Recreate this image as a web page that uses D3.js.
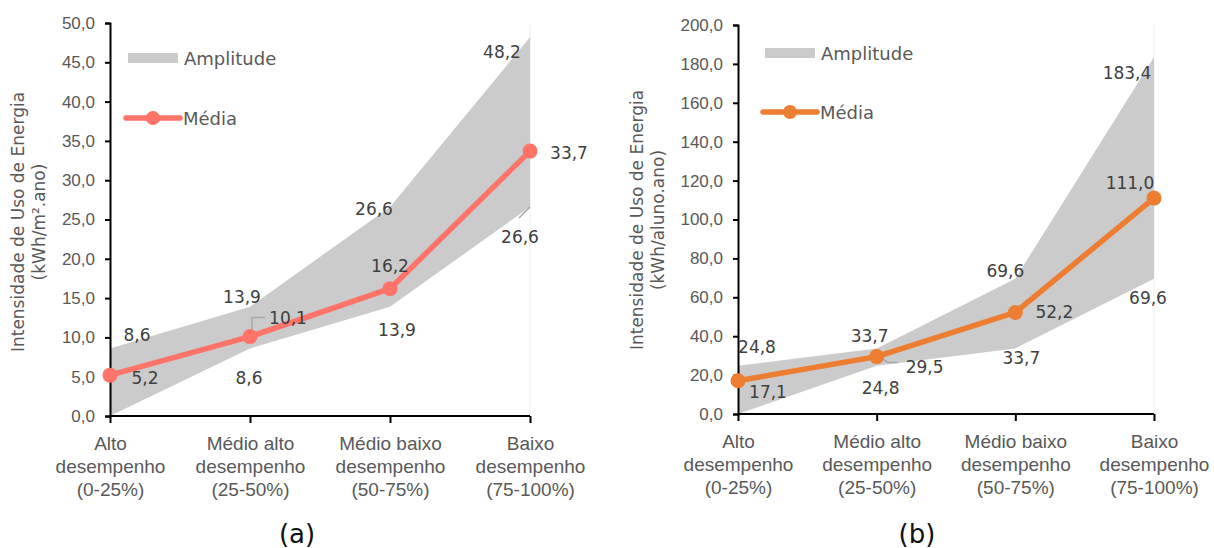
<!DOCTYPE html>
<html>
<head>
<meta charset="utf-8">
<script src="https://cdn.jsdelivr.net/npm/d3@7"></script>
<style>
  html, body { margin: 0; padding: 0; background: #fff; }
  svg { display: block; font-family: "DejaVu Sans", sans-serif; }
</style>
</head>
<body>
<svg id="chart" width="1214" height="548"></svg>
<script>
// Performance classes (x axis), three lines each
const categories = ["Alto desempenho (0-25%)", "Médio alto desempenho (25-50%)", "Médio baixo desempenho (50-75%)", "Baixo desempenho (75-100%)"];
const categoryLines = [
  ["Alto", "desempenho", "(0-25%)"],
  ["Médio alto", "desempenho", "(25-50%)"],
  ["Médio baixo", "desempenho", "(50-75%)"],
  ["Baixo", "desempenho", "(75-100%)"]
];

// (a) kWh/m².ano
const minAreaA = [0.0, 8.6, 13.9, 26.6];
const maxAreaA = [8.6, 13.9, 26.6, 48.2];
const meanAreaA = [5.2, 10.1, 16.2, 33.7];
const ticksA = [0, 5, 10, 15, 20, 25, 30, 35, 40, 45, 50];

// (b) kWh/aluno.ano
const minStudentB = [0.0, 24.8, 33.7, 69.6];
const maxStudentB = [24.8, 33.7, 69.6, 183.4];
const meanStudentB = [17.1, 29.5, 52.2, 111.0];
const ticksB = [0, 20, 40, 60, 80, 100, 120, 140, 160, 180, 200];

const fmt = v => d3.format(".1f")(v).replace(".", ",");
const svg = d3.select("#chart");

function drawPanel(cfg) {
  const g = svg.append("g");
  const x = d3.scalePoint().domain(d3.range(categories.length)).range([cfg.x0, cfg.x1]);
  const y = d3.scaleLinear().domain([cfg.ticks[0], cfg.ticks[cfg.ticks.length - 1]]).range([cfg.y0, cfg.y1]);

  // faint right border of the plot area
  g.append("line")
    .attr("x1", cfg.x1).attr("x2", cfg.x1)
    .attr("y1", cfg.y1).attr("y2", cfg.y0)
    .attr("stroke", "#ececec").attr("stroke-width", 1);

  // amplitude band (min to max)
  const area = d3.area()
    .x((d, i) => x(i))
    .y0((d, i) => y(cfg.min[i]))
    .y1((d, i) => y(cfg.max[i]));
  g.append("path").datum(cfg.mean).attr("d", area).attr("fill", "#cbcbcb");

  // y axis
  const yAxis = d3.axisLeft(y).tickValues(cfg.ticks).tickFormat(fmt).tickSize(5).tickPadding(10);
  const ya = g.append("g").attr("transform", `translate(${cfg.x0},0)`).call(yAxis);
  ya.select(".domain").attr("stroke", "#000").attr("stroke-width", 2);
  ya.selectAll(".tick line").attr("stroke", "#000").attr("stroke-width", 2);
  ya.selectAll(".tick text").attr("fill", "#595959").style("font-size", "17px").attr("font-family", null);

  // x axis
  const xAxis = d3.axisBottom(x).tickSize(7).tickFormat("");
  const xa = g.append("g").attr("transform", `translate(0,${cfg.y0})`).call(xAxis);
  xa.select(".domain").attr("stroke", "#000").attr("stroke-width", 2)
    .attr("d", `M${cfg.x0},0H${cfg.x1}`);
  xa.selectAll(".tick line").attr("stroke", "#000").attr("stroke-width", 2);
  xa.selectAll(".tick").each(function(d) {
    const t = d3.select(this).append("text")
      .attr("fill", "#595959").attr("text-anchor", "middle")
      .style("font-size", "19px").attr("font-family", null);
    categoryLines[d].forEach((ln, k) => {
      t.append("tspan").attr("x", 0).attr("y", 34 + k * 23).text(ln);
    });
  });

  // leader lines
  cfg.leaders.forEach(p => {
    g.append("path")
      .attr("d", d3.line()(p.pts.map(([dx, dy]) => [x(p.i) + dx, y(p.v) + dy])))
      .attr("fill", "none").attr("stroke", "#a6a6a6").attr("stroke-width", 1.5);
  });

  // mean line and markers
  const line = d3.line().x((d, i) => x(i)).y(d => y(d));
  g.append("path").datum(cfg.mean).attr("d", line)
    .attr("fill", "none").attr("stroke", cfg.color).attr("stroke-width", 5.5)
    .attr("stroke-linejoin", "round");
  g.selectAll("circle.pt").data(cfg.mean).join("circle")
    .attr("class", "pt")
    .attr("cx", (d, i) => x(i)).attr("cy", d => y(d)).attr("r", 7.5)
    .attr("fill", cfg.color);

  // data labels
  const labelSets = [
    { vals: cfg.max, off: cfg.offMax },
    { vals: cfg.mean, off: cfg.offMean },
    { vals: cfg.min, off: cfg.offMin }
  ];
  labelSets.forEach(set => {
    set.vals.forEach((v, i) => {
      const o = set.off[i];
      if (!o) return;
      g.append("text")
        .attr("x", x(i) + o[0]).attr("y", y(v) + o[1])
        .attr("text-anchor", "middle").attr("dominant-baseline", "central")
        .attr("fill", "#404040").style("font-size", "17px")
        .text(fmt(v));
    });
  });

  // y axis title
  const tt = g.append("text")
    .attr("transform", `translate(${cfg.titleX},${cfg.titleY}) rotate(-90)`)
    .attr("text-anchor", "middle").attr("fill", "#595959").style("font-size", "17px");
  cfg.title.forEach((ln, k) => {
    tt.append("tspan").attr("x", 0).attr("y", k * 21).text(ln);
  });

  // legend
  const lg = g.append("g");
  lg.append("rect").attr("x", cfg.legX).attr("y", cfg.legY1 - 5).attr("width", 50).attr("height", 10).attr("fill", "#cbcbcb");
  lg.append("text").attr("x", cfg.legX + 56).attr("y", cfg.legY1).attr("dominant-baseline", "central")
    .attr("fill", "#595959").style("font-size", "18px").text("Amplitude");
  lg.append("line").attr("x1", cfg.legX - 2).attr("x2", cfg.legX + 52)
    .attr("y1", cfg.legY2).attr("y2", cfg.legY2)
    .attr("stroke", cfg.color).attr("stroke-width", 5.5).attr("stroke-linecap", "round");
  lg.append("circle").attr("cx", cfg.legX + 25).attr("cy", cfg.legY2).attr("r", 7).attr("fill", cfg.color);
  lg.append("text").attr("x", cfg.legX + 55).attr("y", cfg.legY2).attr("dominant-baseline", "central")
    .attr("fill", "#595959").style("font-size", "18px").text("Média");

  // panel caption
  svg.append("text").attr("x", cfg.capX).attr("y", 534)
    .attr("text-anchor", "middle").attr("dominant-baseline", "central")
    .attr("fill", "#111").style("font-size", "26px").text(cfg.caption);
}

drawPanel({
  x0: 110, x1: 530, y0: 416, y1: 23,
  ticks: ticksA, min: minAreaA, max: maxAreaA, mean: meanAreaA,
  color: "#ff7369",
  offMax: [[27, -13], [-8, -10], [-16, 2], [-28, 15]],
  offMean: [[35, 3], [38, -19], [0, -23], [39, 2]],
  offMin: [null, [-1, 30], [7, 23], [-10, 30]],
  leaders: [
    { i: 1, v: 10.1, pts: [[2, -2], [2, -19], [15, -19]] },
    { i: 3, v: 26.6, pts: [[-11, 11], [0, 0]] }
  ],
  title: ["Intensidade de Uso de Energia", "(kWh/m².ano)"],
  titleX: 24, titleY: 222,
  legX: 128, legY1: 58, legY2: 118,
  capX: 297, caption: "(a)"
});

drawPanel({
  x0: 738, x1: 1154, y0: 414, y1: 25,
  ticks: ticksB, min: minStudentB, max: maxStudentB, mean: meanStudentB,
  color: "#ed7d31",
  offMax: [[19, -19], [-7, -12], [-10, -8], [-27, 16]],
  offMean: [[30, 11], [48, 10], [39, 0], [-24, -15]],
  offMin: [null, [4, 22], [6, 10], [-6, 19]],
  leaders: [
    { i: 1, v: 29.5, pts: [[3, 0], [11, 6], [21, 6]] }
  ],
  title: ["Intensidade de Uso de Energia", "(kWh/aluno.ano)"],
  titleX: 643, titleY: 220,
  legX: 765, legY1: 53, legY2: 112,
  capX: 917, caption: "(b)"
});
</script>
</body>
</html>
